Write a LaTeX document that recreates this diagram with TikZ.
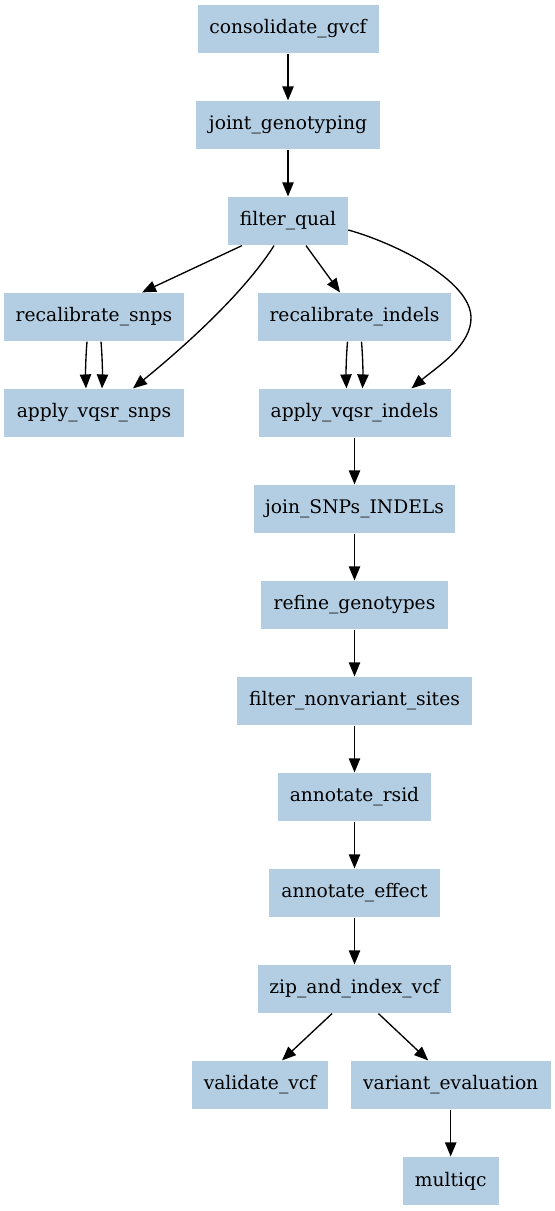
\documentclass[tikz,border=0pt]{standalone}
\usepackage{fontspec}
\setmainfont{DejaVu Serif}
\usetikzlibrary{arrows.meta,calc}
\definecolor{boxfill}{HTML}{B3CDE3}
\begin{document}
\begin{tikzpicture}[x=0.75pt,y=-0.75pt,
  task/.style={fill=boxfill, draw=none, minimum height=36.5pt, inner sep=0pt,
    font=\fontsize{14pt}{16pt}\selectfont, anchor=center},
  edge/.style={draw=black, line width=1pt, -{Triangle[length=10.5pt,width=8.5pt]}},
]
\useasboundingbox (0,0) rectangle (555,1211);
\node[task, minimum width=135.75pt] (cg) at (288,29) {consolidate\_gvcf};
\node[task, minimum width=137.6pt] (jg) at (288,125) {joint\_genotyping};
\node[task, minimum width=90pt] (fq) at (288,221) {filter\_qual};
\node[task, minimum width=135pt] (rs) at (94,317) {recalibrate\_snps};
\node[task, minimum width=135pt] (as) at (94,413) {apply\_vqsr\_snps};
\node[task, minimum width=144.75pt] (ri) at (354.5,317) {recalibrate\_indels};
\node[task, minimum width=144pt] (ai) at (354.5,413) {apply\_vqsr\_indels};
\node[task, minimum width=150.75pt] (js) at (354.5,509) {join\_SNPs\_INDELs};
\node[task, minimum width=140.25pt] (rg) at (354.5,605) {refine\_genotypes};
\node[task, minimum width=176.7pt] (fn) at (354.5,701) {filter\_nonvariant\_sites};
\node[task, minimum width=115pt] (ar) at (354.5,797) {annotate\_rsid};
\node[task, minimum width=128pt] (ae) at (354.5,893) {annotate\_effect};
\node[task, minimum width=145pt] (zi) at (354.5,989) {zip\_and\_index\_vcf};
\node[task, minimum width=101.8pt] (vv) at (260,1085) {validate\_vcf};
\node[task, minimum width=150pt] (ve) at (450.7,1085) {variant\_evaluation};
\node[task, minimum width=72pt] (mq) at (450.7,1181) {multiqc};

\draw[edge] (cg) -- (jg);
\draw[edge] (jg) -- (fq);
\draw[edge] ($(fq.south)+(-46,0)$) -- ($(rs.north)+(48,0)$);
\draw[edge] ($(fq.south)+(-14,0)$) .. controls (248,287) and (195,338) .. ($(as.north)+(39,0)$);
\draw[edge] ($(fq.south)+(18,0)$) -- ($(ri.north)+(-14.5,0)$);
\draw[edge] ($(fq.east)+(0,9)$) .. controls (395,243) and (470,280) .. (471,317)
  .. controls (472,345) and (437,367) .. ($(ai.north)+(57,0)$);
\draw[edge] ($(rs.south)+(-7,0)$) .. controls (85.5,360) and (85.5,375) .. ($(as.north)+(-8,0)$);
\draw[edge] ($(rs.south)+(7,0)$) .. controls (102.5,360) and (102.5,375) .. ($(as.north)+(8,0)$);
\draw[edge] ($(ri.south)+(-7,0)$) .. controls (346,360) and (346,375) .. ($(ai.north)+(-8,0)$);
\draw[edge] ($(ri.south)+(7,0)$) .. controls (363,360) and (363,375) .. ($(ai.north)+(8,0)$);
\draw[edge] (ai) -- (js);
\draw[edge] (js) -- (rg);
\draw[edge] (rg) -- (fn);
\draw[edge] (fn) -- (ar);
\draw[edge] (ar) -- (ae);
\draw[edge] (ae) -- (zi);
\draw[edge] ($(zi.south)+(-22.5,0)$) -- ($(vv.north)+(22,0)$);
\draw[edge] ($(zi.south)+(24,0)$) -- ($(ve.north)+(-22.5,0)$);
\draw[edge] (ve) -- (mq);
\end{tikzpicture}
\end{document}
